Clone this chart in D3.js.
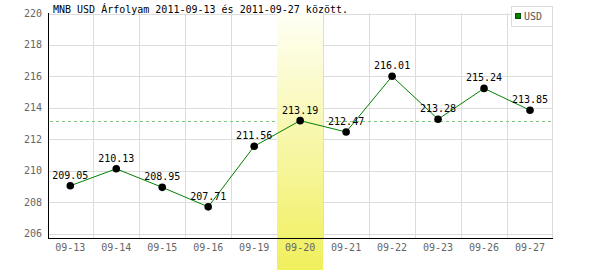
<!DOCTYPE html>
<html>
<head>
<meta charset="utf-8">
<script src="https://cdn.jsdelivr.net/npm/d3@7"></script>
<style>
  body { margin: 0; background: #fff; }
  text { font-family: "DejaVu Sans Mono", monospace; font-size: 10px; }
</style>
</head>
<body>
<svg width="600" height="270"></svg>
<script>
var title = "MNB USD Árfolyam 2011-09-13 és 2011-09-27 között.";
var dates = ["09-13", "09-14", "09-15", "09-16", "09-19", "09-20", "09-21", "09-22", "09-23", "09-26", "09-27"];
var rates = [209.05, 210.13, 208.95, 207.71, 211.56, 213.19, 212.47, 216.01, 213.28, 215.24, 213.85];
var yTicks = [206, 208, 210, 212, 214, 216, 218, 220];
var highlighted = "09-20";
var seriesName = "USD";

var svg = d3.select("svg"),
    width = +svg.attr("width"),
    height = +svg.attr("height");

var plotLeft = 48, plotRight = 553, plotTop = 13, plotBottom = 238;

var x = d3.scaleBand()
    .domain(dates)
    .range([plotLeft - 0.7, plotRight]);

var y = d3.scaleLinear()
    .domain([205.73, 220])
    .range([plotBottom, plotTop + 0.5]);

// gradient for the highlighted day
var grad = svg.append("defs").append("linearGradient")
    .attr("id", "hl")
    .attr("x1", 0).attr("y1", 0).attr("x2", 0).attr("y2", 1);
grad.append("stop").attr("offset", "0%").attr("stop-color", "#fffff6");
grad.append("stop").attr("offset", "100%").attr("stop-color", "#f0ef5c");

// grid
svg.append("g")
  .selectAll("line")
  .data(yTicks)
  .join("line")
    .attr("x1", plotLeft).attr("x2", plotRight)
    .attr("y1", function(d) { return Math.round(y(d)) + 0.5; })
    .attr("y2", function(d) { return Math.round(y(d)) + 0.5; })
    .attr("stroke", "#dcdcdc");

svg.append("g")
  .selectAll("line")
  .data(dates.slice(1).concat(["end"]))
  .join("line")
    .attr("x1", function(d) { return d == "end" ? plotRight - 0.5 : Math.round(x(d)) + 0.5; })
    .attr("x2", function(d) { return d == "end" ? plotRight - 0.5 : Math.round(x(d)) + 0.5; })
    .attr("y1", plotTop).attr("y2", plotBottom)
    .attr("stroke", "#dcdcdc");

// reference line at the highlighted day's rate
var refValue = rates[dates.indexOf(highlighted)];
svg.append("line")
    .attr("x1", plotLeft + 2).attr("x2", plotRight)
    .attr("y1", Math.round(y(refValue)) + 0.5)
    .attr("y2", Math.round(y(refValue)) + 0.5)
    .attr("stroke", "#7cc87c")
    .attr("stroke-dasharray", "3,3");

// highlight band
svg.append("rect")
    .attr("x", Math.round(x(highlighted)))
    .attr("y", plotTop)
    .attr("width", Math.round(x.bandwidth()))
    .attr("height", height - plotTop)
    .attr("fill", "url(#hl)");

// axes
svg.append("line")
    .attr("x1", plotLeft + 0.5).attr("x2", plotLeft + 0.5)
    .attr("y1", plotTop).attr("y2", plotBottom + 1)
    .attr("stroke", "#000");
svg.append("line")
    .attr("x1", plotLeft).attr("x2", plotRight)
    .attr("y1", plotBottom + 0.5).attr("y2", plotBottom + 0.5)
    .attr("stroke", "#000");

svg.append("g")
  .selectAll("text")
  .data(yTicks)
  .join("text")
    .attr("x", 42)
    .attr("y", function(d) { return y(d); })
    .attr("dy", "0.35em")
    .attr("text-anchor", "end")
    .attr("fill", "#666")
    .text(function(d) { return d; });

svg.append("g")
  .selectAll("text")
  .data(dates)
  .join("text")
    .attr("x", function(d) { return x(d) + x.bandwidth() / 2; })
    .attr("y", 251)
    .attr("text-anchor", "middle")
    .attr("fill", "#666")
    .text(function(d) { return d; });

// series
var line = d3.line()
    .x(function(d, i) { return x(dates[i]) + x.bandwidth() / 2; })
    .y(function(d) { return y(d); });

svg.append("path")
    .datum(rates)
    .attr("d", line)
    .attr("fill", "none")
    .attr("stroke", "#008000")
    .attr("stroke-width", 1);

svg.append("g")
  .selectAll("circle")
  .data(rates)
  .join("circle")
    .attr("cx", function(d, i) { return x(dates[i]) + x.bandwidth() / 2; })
    .attr("cy", function(d) { return y(d); })
    .attr("r", 3.8)
    .attr("fill", "#000");

svg.append("g")
  .selectAll("text")
  .data(rates)
  .join("text")
    .attr("x", function(d, i) { return x(dates[i]) + x.bandwidth() / 2; })
    .attr("y", function(d) { return y(d) - 7; })
    .attr("text-anchor", "middle")
    .attr("fill", "#000")
    .text(function(d) { return d.toFixed(2); });

// title
svg.append("text")
    .attr("x", 53)
    .attr("y", 13)
    .attr("fill", "#000")
    .text(title);

// legend
var legend = svg.append("g");
legend.append("rect")
    .attr("x", 511.5).attr("y", 6.5)
    .attr("width", 41).attr("height", 20)
    .attr("fill", "#fff")
    .attr("stroke", "#dcdcdc");
legend.append("rect")
    .attr("x", 515.5).attr("y", 13.5)
    .attr("width", 5).attr("height", 5)
    .attr("fill", "#008000")
    .attr("stroke", "#005000");
legend.append("text")
    .attr("x", 524)
    .attr("y", 20)
    .attr("fill", "#555")
    .text(seriesName);
</script>
</body>
</html>
